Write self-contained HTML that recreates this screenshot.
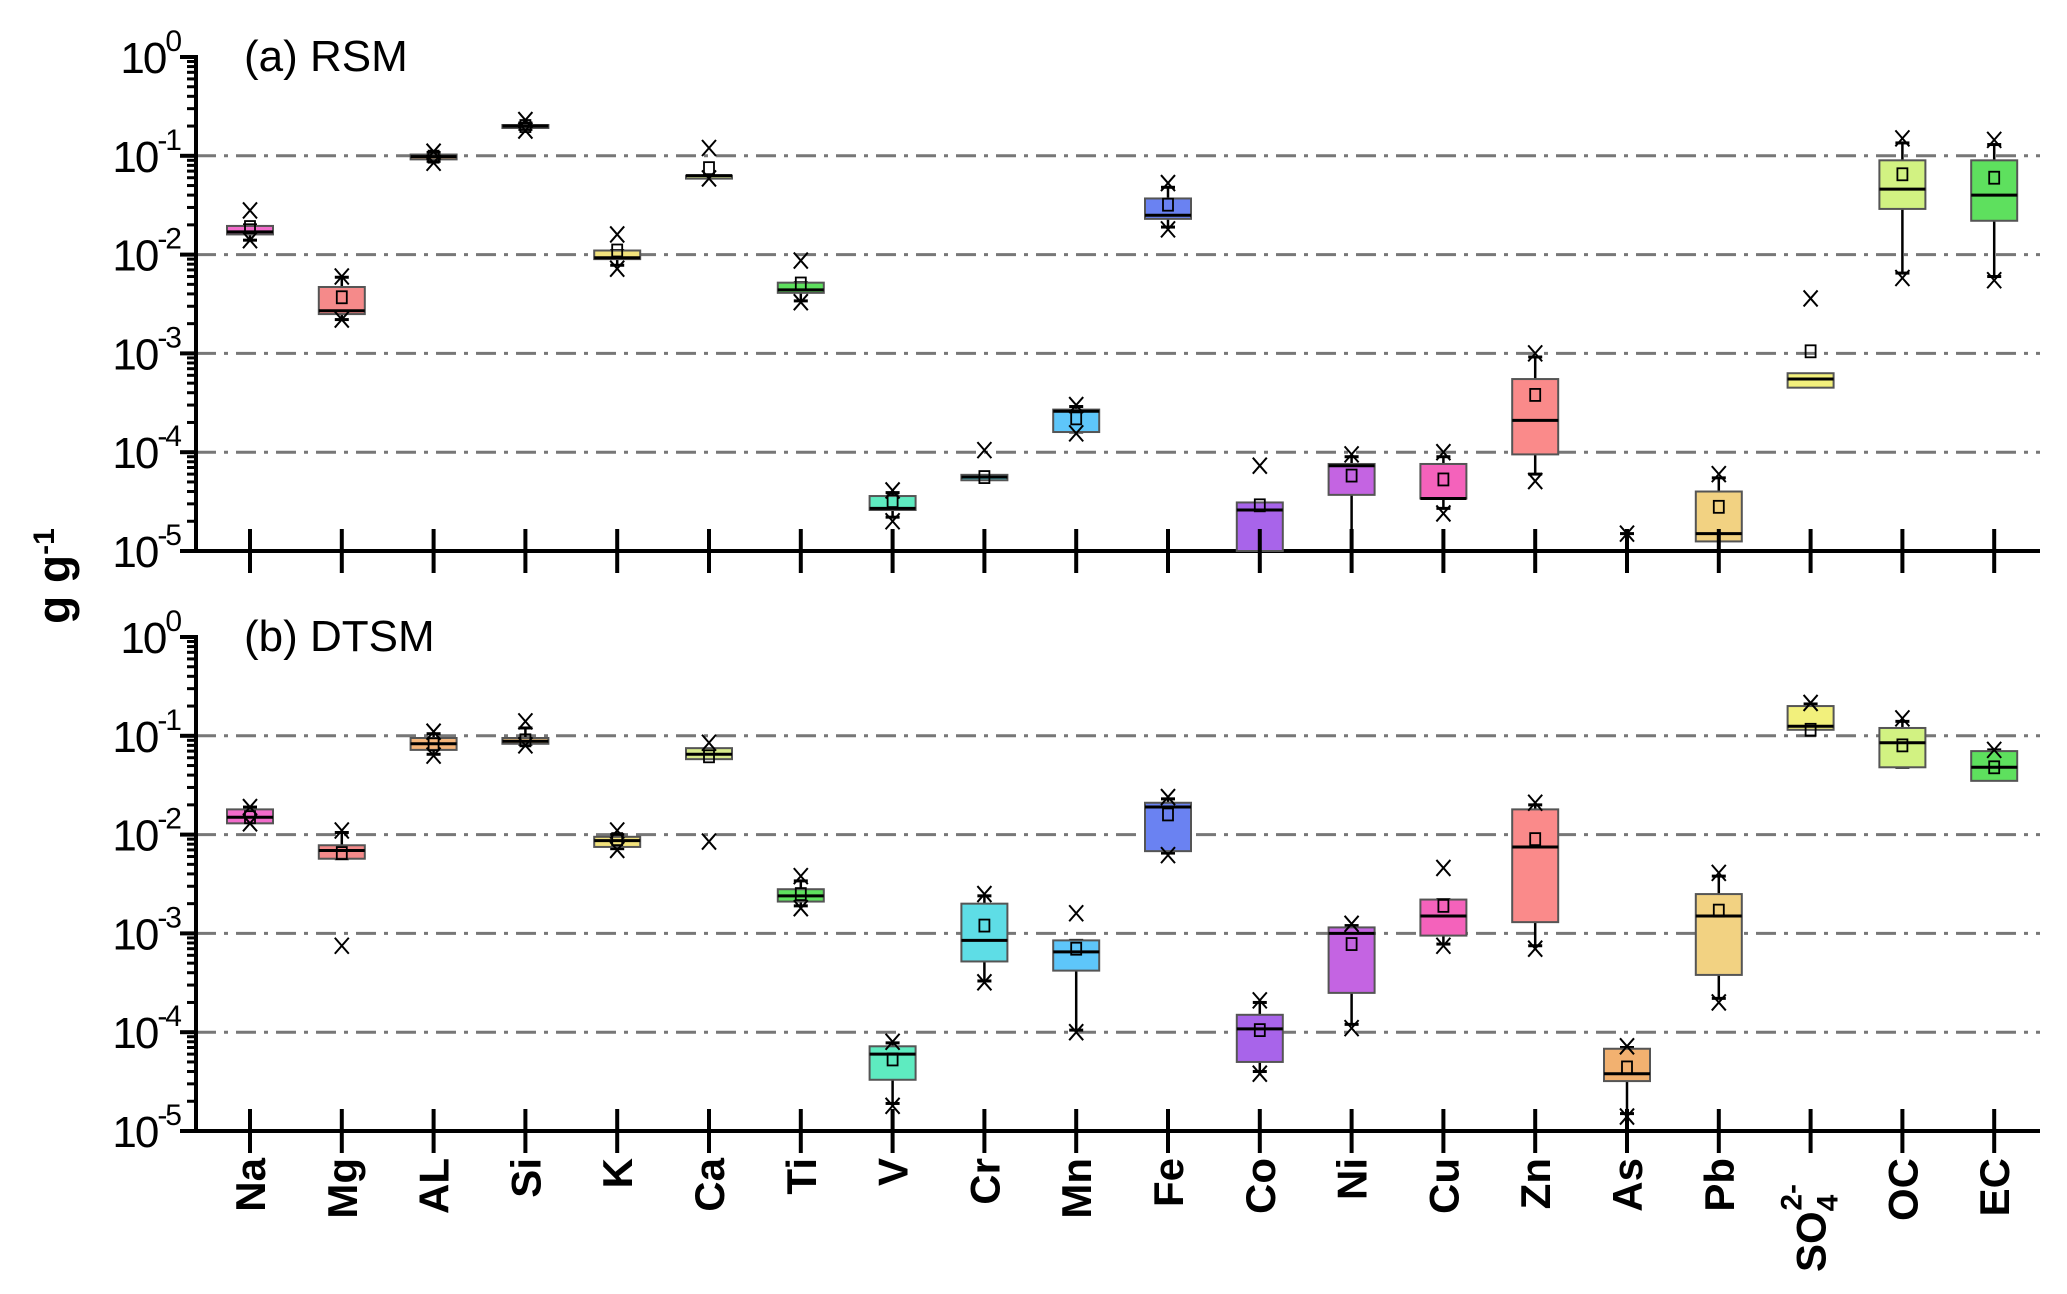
<!DOCTYPE html>
<html><head><meta charset="utf-8"><style>
html,body{margin:0;padding:0;background:#fff;}
svg{display:block;font-family:"Liberation Sans",sans-serif;}
</style></head><body>
<svg id="chart" width="2067" height="1294" viewBox="0 0 2067 1294" xmlns="http://www.w3.org/2000/svg">
<text transform="translate(70,576) rotate(-90)" text-anchor="middle" font-size="46" font-weight="bold">g g<tspan dy="-16" font-size="30">-1</tspan></text>
</svg>
<script>
const categories=["Na","Mg","AL","Si","K","Ca","Ti","V","Cr","Mn","Fe","Co","Ni","Cu","Zn","As","Pb","SO4","OC","EC"];
const colors=["#f26ccb","#f58a8a","#f5b57a","#f0c585","#f2e27c","#d8eb8a","#5ee05e","#5eebc0","#5edde6","#5ec6fa","#6a82f2","#a864ea","#c464e2","#f462bb","#fa8a8a","#f2b170","#f2d282","#f2f07c","#d2f282","#5ee05e"];
// Panel (a) RSM
const rsmQ1=[0.016,0.0025,0.092,0.195,0.009,0.063,0.0041,2.6e-5,5.2e-5,1.6e-4,0.023,1e-5,3.7e-5,3.4e-5,9.5e-5,null,1.25e-5,4.5e-4,0.029,0.022];
const rsmMed=[0.017,0.0027,0.098,0.2,0.0093,0.063,0.0044,2.7e-5,5.6e-5,2.6e-4,0.025,2.6e-5,7.3e-5,3.4e-5,2.1e-4,null,1.5e-5,5.5e-4,0.046,0.04];
const rsmQ3=[0.0195,0.0047,0.103,0.205,0.011,0.063,0.0052,3.6e-5,5.9e-5,2.7e-4,0.037,3.1e-5,7.6e-5,7.6e-5,5.5e-4,null,4e-5,6.3e-4,0.09,0.09];
const rsmMean=[0.019,0.0037,0.098,0.2,0.011,0.075,0.0051,3.2e-5,5.6e-5,2.2e-4,0.032,2.9e-5,5.8e-5,5.3e-5,3.8e-4,null,2.8e-5,1.05e-3,0.065,0.06];
const rsmWlo=[0.014,0.0022,0.088,0.185,0.0078,null,0.0034,2.2e-5,null,1.6e-4,0.019,1e-5,1e-5,2.7e-5,6e-5,1e-5,1e-5,null,0.0065,0.006];
const rsmWhi=[0.02,0.0059,0.108,0.215,0.011,null,0.0052,3.9e-5,null,2.9e-4,0.048,null,9e-5,9e-5,9.2e-4,1.5e-5,5.5e-5,null,0.135,0.13];
const rsmMin=[0.014,0.0022,0.085,0.18,0.0072,0.059,0.0033,2.0e-5,null,1.55e-4,0.018,null,null,2.4e-5,5.1e-5,null,null,null,0.0058,0.0055];
const rsmMax=[0.028,0.006,0.11,0.23,0.016,0.12,0.0087,4.1e-5,1.05e-4,3.0e-4,0.053,7.3e-5,9.5e-5,1.0e-4,1.0e-3,1.5e-5,6e-5,3.6e-3,0.15,0.145];
// Panel (b) DTSM
const dtQ1=[0.013,0.0057,0.072,0.083,0.0075,0.058,0.0021,3.3e-5,5.2e-4,4.2e-4,0.0068,5e-5,2.5e-4,9.5e-4,1.3e-3,3.2e-5,3.8e-4,0.115,0.048,0.035];
const dtMed=[0.015,0.0069,0.083,0.088,0.0087,0.065,0.0024,6e-5,8.5e-4,6.5e-4,0.019,1.08e-4,1e-3,1.5e-3,7.5e-3,3.8e-5,1.5e-3,0.125,0.085,0.048];
const dtQ3=[0.018,0.0078,0.095,0.095,0.0095,0.075,0.0028,7.2e-5,2e-3,8.5e-4,0.021,1.5e-4,1.15e-3,2.2e-3,0.018,6.8e-5,2.5e-3,0.2,0.12,0.07];
const dtMean=[0.015,0.0065,0.082,0.09,0.009,0.062,0.0025,5.3e-5,1.2e-3,7e-4,0.016,1.05e-4,7.8e-4,1.9e-3,0.009,4.4e-5,1.7e-3,0.115,0.08,0.048];
const dtWlo=[0.0135,0.0057,0.065,0.082,0.0072,null,0.0019,1.9e-5,3.3e-4,1.05e-4,0.0065,4e-5,1.2e-4,7.8e-4,7.5e-4,1.5e-5,2.2e-4,null,0.048,null];
const dtWhi=[0.019,0.0105,0.105,0.12,0.01,null,0.0034,7.8e-5,2.4e-3,8.5e-4,0.023,2e-4,1.2e-3,2.2e-3,0.02,7e-5,3.8e-3,0.21,0.14,0.072];
const dtMin=[0.013,7.5e-4,0.063,0.08,0.007,0.0085,0.0018,1.8e-5,3.2e-4,1.0e-4,0.0062,3.8e-5,1.1e-4,7.5e-4,7e-4,1.4e-5,2e-4,null,null,null];
const dtMax=[0.019,0.011,0.11,0.14,0.011,0.085,0.0038,8e-5,2.5e-3,1.6e-3,0.024,2.1e-4,1.25e-3,4.6e-3,0.021,7.2e-5,4.1e-3,0.215,0.15,0.072];
const decadeLabels=["0","-1","-2","-3","-4","-5"];

const NS="http://www.w3.org/2000/svg";
const svg=document.getElementById("chart");
function mk(tag,attrs,parent){const e=document.createElementNS(NS,tag);for(const k in attrs)e.setAttribute(k,attrs[k]);(parent||svg).appendChild(e);return e;}
const X0=196,X1=2040,CX0=250,DX=91.8,BW=46;
function xs(i){return CX0+i*DX;}
function panel(top,bottom,title,Q1,MED,Q3,MEAN,WLO,WHI,MIN,MAX,pname){
  const g=mk("g",{});
  
  
  const dec=(bottom-top)/5;
  const ys=v=>top+(-Math.log10(v))*dec;
  const clampY=v=>Math.min(bottom,ys(v));
  for(let d=1;d<=4;d++){
    const gl=mk("line",{x1:X0,x2:X1,y1:top+d*dec,y2:top+d*dec,stroke:"#777","stroke-width":3,"stroke-dasharray":"20 8 4 8"},g);
    
    
  }
  for(let d=0;d<=5;d++){
    const y=top+d*dec;
    mk("line",{x1:X0-16,x2:X0,y1:y,y2:y,stroke:"#000","stroke-width":4},g);
    const t=mk("text",{x:X0-16,y:y+16,"text-anchor":"end","font-size":44,"letter-spacing":"-2"},g);
    
    
    t.innerHTML='10<tspan dy="-22" font-size="30">'+decadeLabels[d]+'</tspan>';
    if(d<5)for(let m=2;m<=9;m++){const ym=y+dec-Math.log10(m)*dec;mk("line",{x1:X0-9,x2:X0,y1:ym,y2:ym,stroke:"#000","stroke-width":3},g);}
  }
  mk("line",{x1:X0,x2:X0,y1:top-2,y2:bottom+2,stroke:"#000","stroke-width":4},g);
  mk("line",{x1:X0,x2:X1,y1:bottom,y2:bottom,stroke:"#000","stroke-width":4},g);
  const tt=mk("text",{x:244,y:top+14,"font-size":44},g);
  
  
  tt.textContent=title;
  categories.forEach((c,i)=>{
    const x=xs(i);
    const bg=mk("g",{},g);
    
    
    if(WLO[i]!=null&&Q1[i]!=null){mk("line",{x1:x,x2:x,y1:clampY(Q1[i]),y2:clampY(WLO[i]),stroke:"#000","stroke-width":2.5},bg);}
    if(WLO[i]!=null&&Q1[i]==null){mk("line",{x1:x,x2:x,y1:clampY(WLO[i]),y2:bottom,stroke:"#000","stroke-width":2.5},bg);}
    if(WHI[i]!=null&&Q3[i]!=null){mk("line",{x1:x,x2:x,y1:ys(Q3[i]),y2:ys(WHI[i]),stroke:"#000","stroke-width":2.5},bg);}
    [WLO[i],WHI[i]].forEach(v=>{if(v!=null&&ys(v)<bottom-2)mk("line",{x1:x-7,x2:x+7,y1:ys(v),y2:ys(v),stroke:"#000","stroke-width":3},bg);});
    if(Q1[i]!=null){
      const y1=clampY(Q1[i]),y3=ys(Q3[i]);
      mk("rect",{x:x-BW/2,y:y3,width:BW,height:Math.max(3,y1-y3),fill:colors[i],stroke:"#555","stroke-width":2},bg);
      mk("line",{x1:x-BW/2,x2:x+BW/2,y1:clampY(MED[i]),y2:clampY(MED[i]),stroke:"#000","stroke-width":3},bg);
      const ym=ys(MEAN[i]);
      mk("rect",{x:x-5,y:ym-6,width:10,height:12,fill:"none",stroke:"#000","stroke-width":1.8},bg);
    }
    [MIN[i],MAX[i]].forEach(v=>{if(v!=null){const y=ys(v);mk("path",{d:`M${x-7},${y-8}L${x+7},${y+8}M${x+7},${y-8}L${x-7},${y+8}`,stroke:"#000","stroke-width":2,fill:"none"},bg);}});
    mk("line",{x1:x,x2:x,y1:bottom-22,y2:bottom+22,stroke:"#000","stroke-width":4},g);
  });
}
panel(57,551,"(a) RSM",rsmQ1,rsmMed,rsmQ3,rsmMean,rsmWlo,rsmWhi,rsmMin,rsmMax,"rsm");
panel(637,1131,"(b) DTSM",dtQ1,dtMed,dtQ3,dtMean,dtWlo,dtWhi,dtMin,dtMax,"dtsm");
categories.forEach((c,i)=>{
  const t=mk("text",{transform:`translate(${xs(i)+15},1158) rotate(-90)`,"text-anchor":"end","font-size":42,"font-weight":"bold"});
  
  
  if(c==="SO4"){t.setAttribute("transform",`translate(${xs(i)+15},1272) rotate(-90)`);t.setAttribute("text-anchor","start");t.innerHTML='SO<tspan dy="12" font-size="30">4</tspan><tspan dy="-36" dx="-16" font-size="30">2-</tspan>';}
  else t.textContent=c;
});
</script>
</body></html>
